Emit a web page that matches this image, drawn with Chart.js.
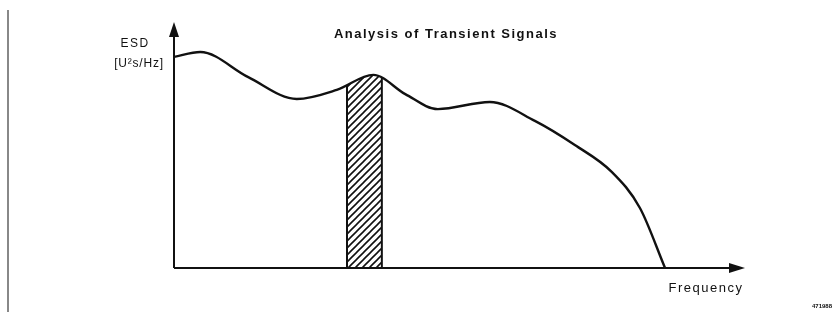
<!DOCTYPE html>
<html>
<head>
<meta charset="utf-8">
<script src="https://cdn.jsdelivr.net/npm/chart.js@4"></script>
<style>
  html, body { margin: 0; padding: 0; background: #fff; }
  #c { display: block; }
</style>
</head>
<body>
<canvas id="c" width="839" height="312"></canvas>
<script>
'use strict';
// frequency axis and energy spectral density, arbitrary units 0..100
const freq = [0, 4.6, 13.0, 21.5, 28.5, 34.9, 40.5, 46.2, 55.3, 63.2, 70.2, 76.7, 81.6, 86.0];
const esd  = [85.8, 87.8, 77.6, 68.7, 72.4, 78.5, 70.7, 64.6, 67.5, 59.8, 50.0, 39.0, 24.4, 0];
const band = [30.3, 36.4];
const labels = { title: 'Analysis of Transient Signals', yName: 'ESD', yUnit: '[U²s/Hz]', xName: 'Frequency', code: '471988' };

function hatchPattern(ctx) {
  const s = 7, c = document.createElement('canvas');
  c.width = s; c.height = s;
  const g = c.getContext('2d');
  g.fillStyle = '#fff'; g.fillRect(0, 0, s, s);
  g.strokeStyle = '#111'; g.lineWidth = 1.6;
  g.beginPath();
  g.moveTo(-1, s + 1); g.lineTo(s + 1, -1);
  g.moveTo(-1, 1); g.lineTo(1, -1);
  g.moveTo(s - 1, s + 1); g.lineTo(s + 1, s - 1);
  g.stroke();
  return ctx.createPattern(c, 'repeat');
}

// shaded frequency band under the curve
const hatch = {
  id: 'hatch',
  beforeDatasetsDraw(chart) {
    const { ctx, chartArea, scales: { x, y } } = chart;
    const meta = chart.getDatasetMeta(0), line = meta.dataset, pts = meta.data;
    line.updateControlPoints(chartArea, 'x');
    const x0 = x.getPixelForValue(band[0]), x1 = x.getPixelForValue(band[1]), yb = y.getPixelForValue(0);
    ctx.save();
    ctx.beginPath();
    line.path(ctx);
    ctx.lineTo(pts[pts.length - 1].x, yb);
    ctx.lineTo(pts[0].x, yb);
    ctx.closePath();
    ctx.clip();
    ctx.fillStyle = hatchPattern(ctx);
    ctx.fillRect(x0, chartArea.top, x1 - x0, yb - chartArea.top);
    ctx.strokeStyle = '#111'; ctx.lineWidth = 2;
    ctx.beginPath();
    ctx.moveTo(x0, chartArea.top); ctx.lineTo(x0, yb);
    ctx.moveTo(x1, chartArea.top); ctx.lineTo(x1, yb);
    ctx.stroke();
    ctx.restore();
  }
};

// arrowed axes, texts and the scan margin
const decor = {
  id: 'decor',
  afterDraw(chart) {
    const { ctx, chartArea: a } = chart;
    ctx.save();
    ctx.strokeStyle = '#888'; ctx.lineWidth = 2;
    ctx.beginPath(); ctx.moveTo(8, 10); ctx.lineTo(8, 312); ctx.stroke();

    ctx.strokeStyle = '#111'; ctx.fillStyle = '#111'; ctx.lineWidth = 2;
    ctx.beginPath();
    ctx.moveTo(a.left, a.bottom); ctx.lineTo(a.left, a.top + 10);
    ctx.moveTo(a.left, a.bottom); ctx.lineTo(a.right - 10, a.bottom);
    ctx.stroke();
    ctx.beginPath();
    ctx.moveTo(a.left, a.top); ctx.lineTo(a.left - 5, a.top + 15); ctx.lineTo(a.left + 5, a.top + 15); ctx.closePath();
    ctx.fill();
    ctx.beginPath();
    ctx.moveTo(a.right, a.bottom); ctx.lineTo(a.right - 16, a.bottom - 5); ctx.lineTo(a.right - 16, a.bottom + 5); ctx.closePath();
    ctx.fill();

    ctx.textAlign = 'center'; ctx.textBaseline = 'middle';
    ctx.font = 'bold 13px "Liberation Sans", Arial, sans-serif';
    ctx.letterSpacing = '1.5px';
    ctx.fillText(labels.title, 446, 34);
    ctx.font = '12px "Liberation Sans", Arial, sans-serif';
    ctx.letterSpacing = '1.5px';
    ctx.fillText(labels.yName, 135, 44);
    ctx.letterSpacing = '0.8px';
    ctx.fillText(labels.yUnit, 139, 64);
    ctx.font = '13px "Liberation Sans", Arial, sans-serif';
    ctx.letterSpacing = '1.5px';
    ctx.fillText(labels.xName, 706, 288);
    ctx.font = 'bold 6px "Liberation Sans", Arial, sans-serif';
    ctx.letterSpacing = '0px';
    ctx.fillText(labels.code, 822, 306);
    ctx.restore();
  }
};

new Chart(document.getElementById('c'), {
  type: 'line',
  data: {
    datasets: [{
      data: freq.map((f, i) => ({ x: f, y: esd[i] })),
      borderColor: '#111',
      borderWidth: 2.4,
      pointRadius: 0,
      cubicInterpolationMode: 'monotone',
      fill: false
    }]
  },
  options: {
    responsive: false,
    animation: false,
    layout: { padding: { left: 174, top: 22, right: 94, bottom: 44 } },
    plugins: { legend: { display: false }, tooltip: { enabled: false } },
    scales: {
      x: { type: 'linear', min: 0, max: 100, display: false },
      y: { min: 0, max: 100, display: false }
    }
  },
  plugins: [hatch, decor]
});
</script>
</body>
</html>
